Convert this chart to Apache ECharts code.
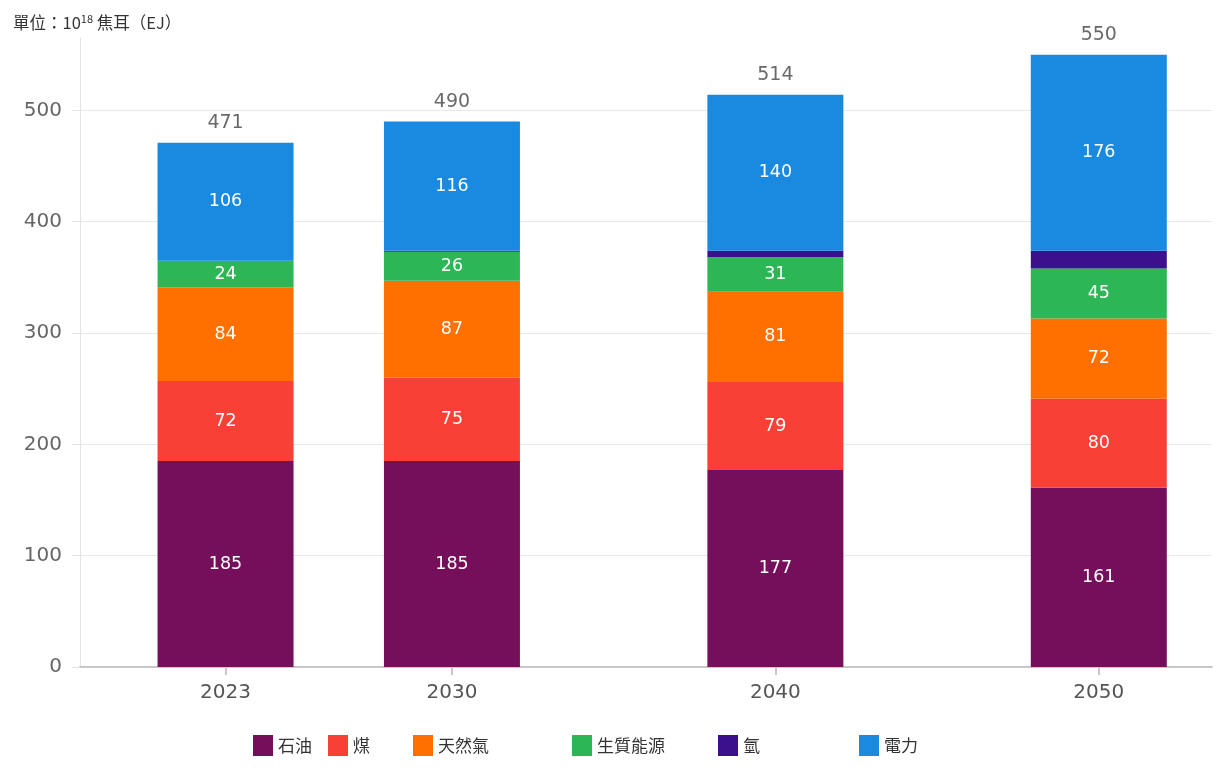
<!DOCTYPE html>
<html><head><meta charset="utf-8">
<script src="https://cdn.jsdelivr.net/npm/echarts@6/dist/echarts.min.js"></script>
<style>html,body{margin:0;padding:0;background:#fff}#c{width:1228px;height:770px}</style>
</head><body><div id="c"></div>
<script>
var years = [2023, 2030, 2040, 2050];
var seriesNames = ['石油', '煤', '天然氣', '生質能源', '氫', '電力'];
var oil = [185, 185, 177, 161];
var coal = [72, 75, 79, 80];
var gas = [84, 87, 81, 72];
var bio = [24, 26, 31, 45];
var hydrogen = [0, 1, 6, 16];
var power = [106, 116, 140, 176];
var totals = [471, 490, 514, 550];
var yTicks = [0, 100, 200, 300, 400, 500];
var colors = ['#760F5B', '#F94037', '#FF7000', '#2DB655', '#3C0F8C', '#1A8AE0'];
var legendLeft = [248, 323, 408, 567, 713, 854];
var firstYear = 2019, lastYear = 2053;

var FONT = '"DejaVu Sans", "Noto Sans CJK TC", sans-serif';
var CJK = '"Noto Sans CJK TC", "Noto Sans", sans-serif';
var allYears = [];
for (var y = firstYear; y <= lastYear; y++) allYears.push(String(y));
function spread(arr) {
  return allYears.map(function (yy) {
    var k = years.indexOf(Number(yy));
    return k >= 0 ? arr[k] : null;
  });
}
function isTickYear(idx) { return years.indexOf(firstYear + idx) >= 0; }

var values = [oil, coal, gas, bio, hydrogen, power];
var chart = echarts.init(document.getElementById('c'));
var series = values.map(function (arr, i) {
  return {
    name: seriesNames[i], type: 'bar', stack: 'total', barWidth: 136,
    itemStyle: { color: colors[i] },
    label: {
      show: i !== 4, position: 'inside', color: '#fff', fontSize: 17.5, fontFamily: FONT,
      formatter: function (p) { return p.value > 0 ? p.value : ''; }
    },
    data: spread(arr)
  };
});
series.push({
  name: 'total', type: 'scatter', symbolSize: 0, silent: true,
  label: { show: true, position: 'top', distance: 10, color: '#444', fontSize: 19, fontFamily: FONT },
  data: spread(totals)
});
var legends = seriesNames.map(function (n, i) {
  return {
    left: legendLeft[i], top: 730, itemWidth: 20, itemHeight: 21, icon: 'rect',
    data: [n], textStyle: { fontSize: 17, color: '#333', fontFamily: CJK }
  };
});
chart.setOption({
  animation: false,
  color: colors,
  textStyle: { fontFamily: FONT },
  title: {
    left: 8, top: 8,
    text: '單位：10{sup|18} 焦耳（EJ）',
    textStyle: { fontSize: 16.5, fontWeight: 'normal', color: '#333', fontFamily: CJK,
      rich: { sup: { fontSize: 11, verticalAlign: 'top', padding: [0, 0, 8, 0], color: '#333', fontFamily: CJK } } }
  },
  legend: legends,
  grid: { left: 80, right: 16, top: 38, bottom: 103 },
  xAxis: {
    type: 'category', data: allYears, boundaryGap: true,
    axisLine: { show: true, lineStyle: { color: '#c8c8c8', width: 2 } },
    axisTick: { show: true, alignWithLabel: true, interval: function (idx) { return isTickYear(idx); }, length: 8, lineStyle: { color: '#c8c8c8', width: 2 } },
    axisLabel: { interval: function (idx) { return isTickYear(idx); }, fontSize: 20, color: '#555', margin: 16, fontFamily: FONT },
    splitLine: { show: false }
  },
  yAxis: {
    type: 'value', min: 0, max: 565, interval: 100,
    axisLine: { show: true, lineStyle: { color: '#e3e3e3', width: 1 } },
    axisTick: { show: true, length: 8, lineStyle: { color: '#e3e3e3' } },
    axisLabel: { fontSize: 20, color: '#666', margin: 18, showMaxLabel: false, fontFamily: FONT,
      formatter: function (v) { return yTicks.indexOf(v) >= 0 ? v : ''; } },
    splitLine: { show: true, lineStyle: { color: ['#e8e8e8', '#e8e8e8', '#e8e8e8', '#e8e8e8', '#e8e8e8', '#e8e8e8', 'rgba(0,0,0,0)'] } }
  },
  series: series
});
</script></body></html>
